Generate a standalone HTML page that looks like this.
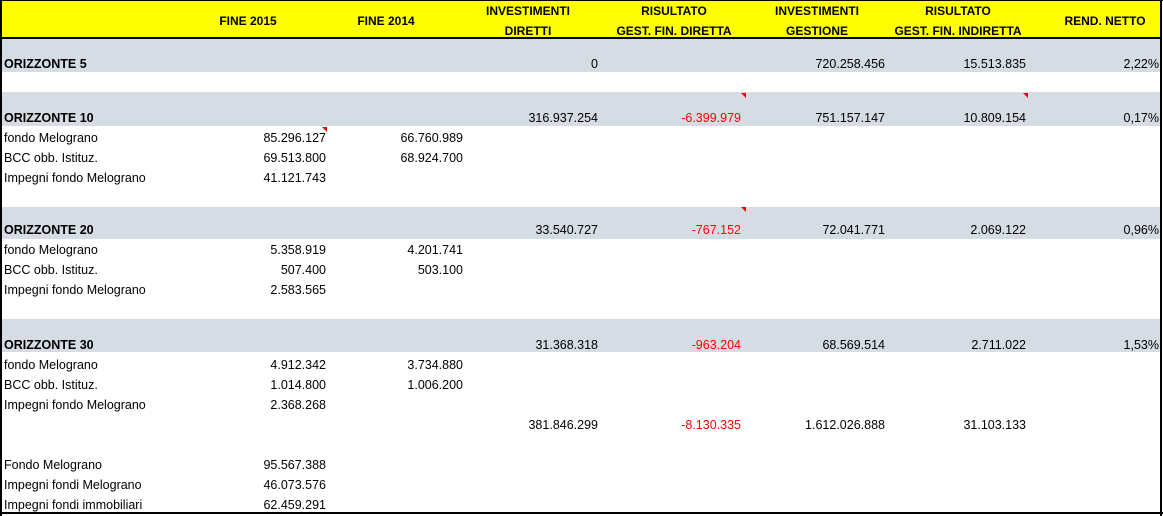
<!DOCTYPE html>
<html><head><meta charset="utf-8"><style>
*{margin:0;padding:0;box-sizing:border-box}
body{width:1163px;height:516px;background:#fff;position:relative;overflow:hidden;font-family:"Liberation Sans",sans-serif;font-size:12.5px;color:#000}
.b{position:absolute}
.t{position:absolute;white-space:nowrap;line-height:14px;margin-top:1px}
.r{text-align:right}
.h{font-weight:bold;font-size:12px;text-align:center;width:160px}
.red{color:#f00}
.g{background:#d6dce4;position:absolute;left:0;width:1160px}
.tri{position:absolute;width:0;height:0;border-top:5px solid #e00;border-left:5px solid transparent}
</style></head><body>
<div class="b" style="left:0;top:0;width:1161px;height:38px;background:#ffff00"></div>
<div class="b" style="left:0;top:37px;width:1161px;height:2px;background:#000"></div>
<div class="g" style="top:39px;height:33px"></div>
<div class="g" style="top:92px;height:34px"></div>
<div class="g" style="top:207px;height:32px"></div>
<div class="g" style="top:319px;height:33px"></div>
<div class="b" style="left:0;top:0;width:1163px;height:1px;background:#000"></div>
<div class="b" style="left:0;top:0;width:2px;height:516px;background:#000"></div>
<div class="b" style="left:1160px;top:0;width:2px;height:516px;background:#000"></div>
<div class="b" style="left:0;top:512px;width:1163px;height:2px;background:#000"></div>

<div class="t h" style="left:168px;top:13px">FINE 2015</div>
<div class="t h" style="left:306px;top:13px">FINE 2014</div>
<div class="t h" style="left:448px;top:3px">INVESTIMENTI</div>
<div class="t h" style="left:448px;top:23px">DIRETTI</div>
<div class="t h" style="left:594px;top:3px">RISULTATO</div>
<div class="t h" style="left:594px;top:23px">GEST. FIN. DIRETTA</div>
<div class="t h" style="left:737px;top:3px">INVESTIMENTI</div>
<div class="t h" style="left:737px;top:23px">GESTIONE</div>
<div class="t h" style="left:878px;top:3px">RISULTATO</div>
<div class="t h" style="left:878px;top:23px">GEST. FIN. INDIRETTA</div>
<div class="t h" style="left:1025px;top:13px">REND. NETTO</div>

<div class="tri" style="left:741px;top:93px"></div>
<div class="tri" style="left:1023px;top:93px"></div>
<div class="tri" style="left:322px;top:127px"></div>
<div class="tri" style="left:741px;top:207px"></div>

<div class="t" style="left:4px;top:56px;font-weight:bold">ORIZZONTE 5</div>
<div class="t r" style="right:565px;top:56px">0</div>
<div class="t r" style="right:278px;top:56px">720.258.456</div>
<div class="t r" style="right:137px;top:56px">15.513.835</div>
<div class="t r" style="right:4px;top:56px">2,22%</div>

<div class="t" style="left:4px;top:110px;font-weight:bold">ORIZZONTE 10</div>
<div class="t r" style="right:565px;top:110px">316.937.254</div>
<div class="t r red" style="right:422px;top:110px">-6.399.979</div>
<div class="t r" style="right:278px;top:110px">751.157.147</div>
<div class="t r" style="right:137px;top:110px">10.809.154</div>
<div class="t r" style="right:4px;top:110px">0,17%</div>
<div class="t" style="left:4px;top:130px">fondo Melograno</div>
<div class="t r" style="right:837px;top:130px">85.296.127</div>
<div class="t r" style="right:700px;top:130px">66.760.989</div>
<div class="t" style="left:4px;top:150px">BCC obb. Istituz.</div>
<div class="t r" style="right:837px;top:150px">69.513.800</div>
<div class="t r" style="right:700px;top:150px">68.924.700</div>
<div class="t" style="left:4px;top:170px">Impegni fondo Melograno</div>
<div class="t r" style="right:837px;top:170px">41.121.743</div>

<div class="t" style="left:4px;top:222px;font-weight:bold">ORIZZONTE 20</div>
<div class="t r" style="right:565px;top:222px">33.540.727</div>
<div class="t r red" style="right:422px;top:222px">-767.152</div>
<div class="t r" style="right:278px;top:222px">72.041.771</div>
<div class="t r" style="right:137px;top:222px">2.069.122</div>
<div class="t r" style="right:4px;top:222px">0,96%</div>
<div class="t" style="left:4px;top:242px">fondo Melograno</div>
<div class="t r" style="right:837px;top:242px">5.358.919</div>
<div class="t r" style="right:700px;top:242px">4.201.741</div>
<div class="t" style="left:4px;top:262px">BCC obb. Istituz.</div>
<div class="t r" style="right:837px;top:262px">507.400</div>
<div class="t r" style="right:700px;top:262px">503.100</div>
<div class="t" style="left:4px;top:282px">Impegni fondo Melograno</div>
<div class="t r" style="right:837px;top:282px">2.583.565</div>

<div class="t" style="left:4px;top:337px;font-weight:bold">ORIZZONTE 30</div>
<div class="t r" style="right:565px;top:337px">31.368.318</div>
<div class="t r red" style="right:422px;top:337px">-963.204</div>
<div class="t r" style="right:278px;top:337px">68.569.514</div>
<div class="t r" style="right:137px;top:337px">2.711.022</div>
<div class="t r" style="right:4px;top:337px">1,53%</div>
<div class="t" style="left:4px;top:357px">fondo Melograno</div>
<div class="t r" style="right:837px;top:357px">4.912.342</div>
<div class="t r" style="right:700px;top:357px">3.734.880</div>
<div class="t" style="left:4px;top:377px">BCC obb. Istituz.</div>
<div class="t r" style="right:837px;top:377px">1.014.800</div>
<div class="t r" style="right:700px;top:377px">1.006.200</div>
<div class="t" style="left:4px;top:397px">Impegni fondo Melograno</div>
<div class="t r" style="right:837px;top:397px">2.368.268</div>

<div class="t r" style="right:565px;top:417px">381.846.299</div>
<div class="t r red" style="right:422px;top:417px">-8.130.335</div>
<div class="t r" style="right:278px;top:417px">1.612.026.888</div>
<div class="t r" style="right:137px;top:417px">31.103.133</div>

<div class="t" style="left:4px;top:457px">Fondo Melograno</div>
<div class="t r" style="right:837px;top:457px">95.567.388</div>
<div class="t" style="left:4px;top:477px">Impegni fondi Melograno</div>
<div class="t r" style="right:837px;top:477px">46.073.576</div>
<div class="t" style="left:4px;top:497px">Impegni fondi immobiliari</div>
<div class="t r" style="right:837px;top:497px">62.459.291</div>
</body></html>
